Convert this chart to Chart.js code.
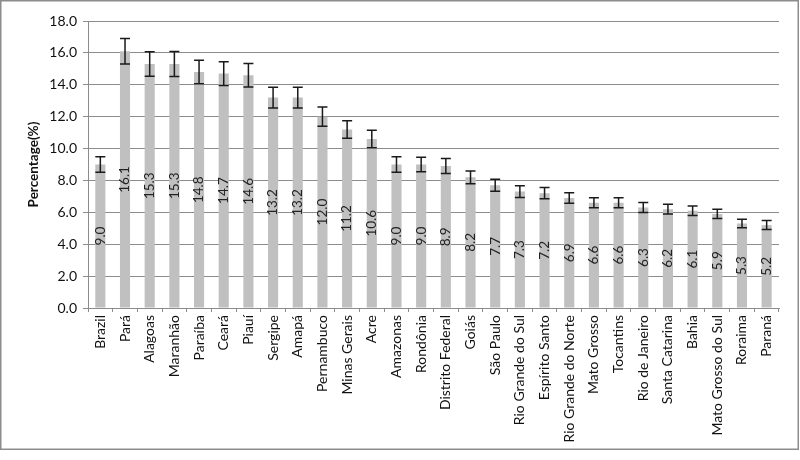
<!DOCTYPE html>
<html>
<head>
<meta charset="utf-8">
<script src="https://cdn.jsdelivr.net/npm/chart.js@4"></script>
<style>
  html, body { margin: 0; padding: 0; background: #fff; }
  #wrap { position: relative; width: 800px; height: 460px; }
</style>
</head>
<body>
<div id="wrap"><canvas id="c" width="800" height="460"></canvas></div>
<script>
const categories = ["Brazil", "Pará", "Alagoas", "Maranhão", "Paraíba", "Ceará", "Piauí", "Sergipe", "Amapá", "Pernambuco", "Minas Gerais", "Acre", "Amazonas", "Rondônia", "Distrito Federal", "Goiás", "São Paulo", "Rio Grande do Sul", "Espírito Santo", "Rio Grande do Norte", "Mato Grosso", "Tocantins", "Rio de Janeiro", "Santa Catarina", "Bahia", "Mato Grosso do Sul", "Roraima", "Paraná"];
const values = [9.0, 16.1, 15.3, 15.3, 14.8, 14.7, 14.6, 13.2, 13.2, 12.0, 11.2, 10.6, 9.0, 9.0, 8.9, 8.2, 7.7, 7.3, 7.2, 6.9, 6.6, 6.6, 6.3, 6.2, 6.1, 5.9, 5.3, 5.2];
const errors = [0.48, 0.8, 0.77, 0.78, 0.74, 0.75, 0.74, 0.65, 0.65, 0.6, 0.55, 0.55, 0.48, 0.45, 0.47, 0.4, 0.38, 0.37, 0.35, 0.33, 0.31, 0.31, 0.31, 0.31, 0.3, 0.29, 0.27, 0.28];
const yTicks = [0, 2, 4, 6, 8, 10, 12, 14, 16, 18];
const yTitle = "Percentage(%)";

const FONT = "Lato, 'Open Sans', sans-serif";

const framePlugin = {
  id: 'frame',
  beforeDraw(chart) {
    const ctx = chart.ctx;
    ctx.save();
    ctx.fillStyle = '#fff';
    ctx.fillRect(0, 0, chart.width, chart.height);
    ctx.strokeStyle = '#8c8c8c';
    ctx.lineWidth = 1.5;
    ctx.strokeRect(0.75, 0.75, 797.5, 448.5);
    ctx.restore();
  }
};

const errorBarPlugin = {
  id: 'errorBars',
  afterDatasetsDraw(chart) {
    const ctx = chart.ctx;
    const y = chart.scales.y;
    const meta = chart.getDatasetMeta(0);
    ctx.save();
    ctx.strokeStyle = '#1a1a1a';
    ctx.lineWidth = 1.5;
    meta.data.forEach((el, i) => {
      const v = values[i], e = errors[i];
      const yt = y.getPixelForValue(v + e);
      const yb = y.getPixelForValue(v - e);
      const x = el.x;
      const cap = 5;
      ctx.beginPath();
      ctx.moveTo(x, yt); ctx.lineTo(x, yb);
      ctx.moveTo(x - cap, yt); ctx.lineTo(x + cap, yt);
      ctx.moveTo(x - cap, yb); ctx.lineTo(x + cap, yb);
      ctx.stroke();
    });
    ctx.restore();
  }
};

const labelPlugin = {
  id: 'barLabels',
  afterDatasetsDraw(chart) {
    const ctx = chart.ctx;
    const meta = chart.getDatasetMeta(0);
    ctx.save();
    ctx.fillStyle = '#222';
    ctx.font = "13.5px " + FONT;
    ctx.textAlign = 'center';
    ctx.textBaseline = 'middle';
    meta.data.forEach((el, i) => {
      const cy = (el.y + el.base) / 2;
      ctx.save();
      ctx.translate(el.x, cy);
      ctx.rotate(-Math.PI / 2);
      ctx.fillText(values[i].toFixed(1), 0, 0);
      ctx.restore();
    });
    ctx.restore();
  }
};

new Chart(document.getElementById('c'), {
  type: 'bar',
  data: {
    labels: categories,
    datasets: [{
      data: values,
      backgroundColor: '#c0c0c0',
      borderWidth: 0,
      barPercentage: 0.41,
      categoryPercentage: 1.0
    }]
  },
  options: {
    responsive: false,
    animation: false,
    devicePixelRatio: 1,
    layout: { padding: { top: 21, right: 21, bottom: 0, left: 26 } },
    plugins: { legend: { display: false }, tooltip: { enabled: false } },
    scales: {
      x: {
        grid: { display: true, drawOnChartArea: false, drawTicks: true, tickLength: 4, color: '#8c8c8c', offset: true },
        border: { display: true, color: '#8c8c8c', width: 1 },
        ticks: {
          autoSkip: false, maxRotation: 90, minRotation: 90, padding: 3,
          color: '#111', font: { family: FONT, size: 14 }
        },
        afterFit(scale) { scale.height = 152; }
      },
      y: {
        min: 0, max: 18,
        afterBuildTicks(scale) { scale.ticks = yTicks.map(v => ({ value: v })); },
        grid: { color: '#8c8c8c', lineWidth: 1, tickLength: 5, drawTicks: true },
        border: { display: true, color: '#8c8c8c', width: 1 },
        ticks: {
          padding: 6, color: '#111', font: { family: FONT, size: 14 },
          callback: v => Number(v).toFixed(1)
        },
        title: {
          display: true, text: yTitle, color: '#111',
          font: { family: FONT, size: 13.5, weight: 'bold' }, padding: { top: 0, bottom: 0 }
        },
        afterFit(scale) { scale.width = 62; }
      }
    }
  },
  plugins: [framePlugin, errorBarPlugin, labelPlugin]
});
</script>
</body>
</html>
